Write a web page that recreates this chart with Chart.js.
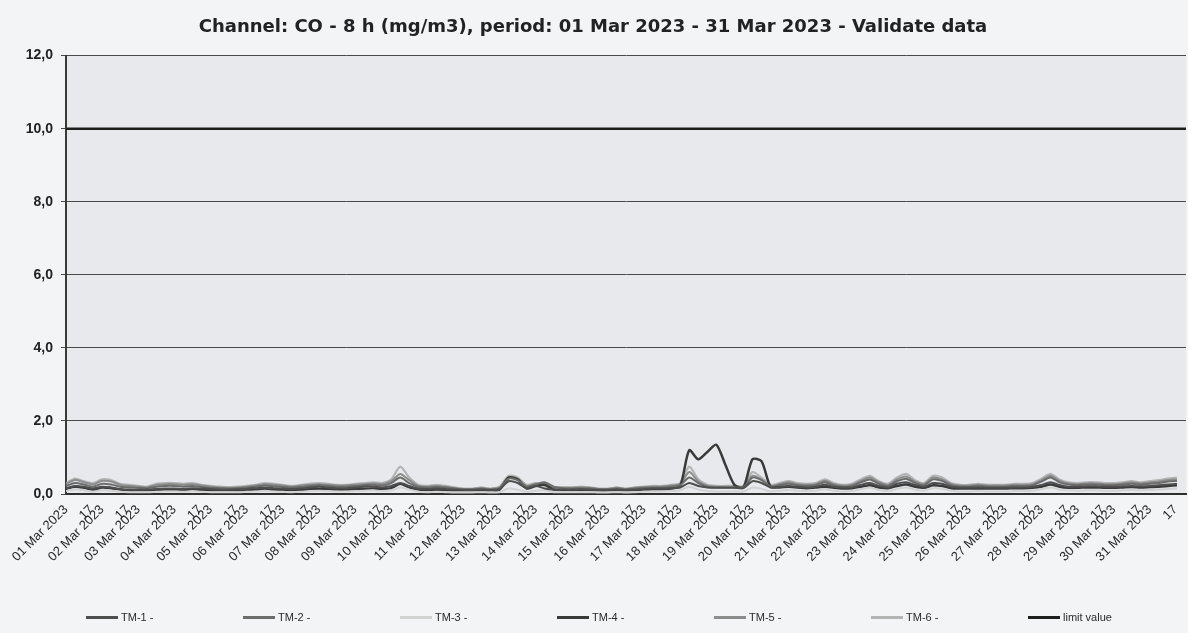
<!DOCTYPE html>
<html>
<head>
<meta charset="utf-8">
<script src="https://cdn.jsdelivr.net/npm/chart.js@4.4.0/dist/chart.umd.min.js"></script>
<style>
  html, body { margin: 0; padding: 0; background: #f3f4f6; }
  #wrap { position: relative; width: 1188px; height: 633px; }
  #legend { position: absolute; left: 86px; top: 610px; display: flex; margin: 0; padding: 0; list-style: none; }
  #legend li { width: 157px; display: flex; align-items: center; height: 14px;
               font-family: 'Liberation Sans Narrow', 'Liberation Sans', sans-serif; font-size: 11px; color: #2a2a2a; }
  #legend li span.sw { display: inline-block; width: 32px; height: 3px; margin-right: 3px; }
</style>
</head>
<body>
<div id="wrap"><canvas id="c" width="1188" height="633"></canvas><ul id="legend"></ul></div>
<script>
// ---- data (mg/m3, 8 h averages, sampled every 6 hours from 01 Mar 00:00) ----
const dayLabels = ['01 Mar 2023','02 Mar 2023','03 Mar 2023','04 Mar 2023','05 Mar 2023','06 Mar 2023','07 Mar 2023','08 Mar 2023','09 Mar 2023','10 Mar 2023','11 Mar 2023','12 Mar 2023','13 Mar 2023','14 Mar 2023','15 Mar 2023','16 Mar 2023','17 Mar 2023','18 Mar 2023','19 Mar 2023','20 Mar 2023','21 Mar 2023','22 Mar 2023','23 Mar 2023','24 Mar 2023','25 Mar 2023','26 Mar 2023','27 Mar 2023','28 Mar 2023','29 Mar 2023','30 Mar 2023','31 Mar 2023'];
const hourLabel = '17';
const hourTick = 17;
const stepHours = 6;
const yTicks = [0, 2, 4, 6, 8, 10, 12];

const tm1 = [.15,.22,.20,.15, .20,.18,.14,.12, .12,.12,.14,.15, .15,.14,.16,.15, .14,.12,.12,.13, .14,.16,.18,.16, .15,.14,.15,.18, .20,.18,.16,.16, .18,.20,.20,.18, .22,.30,.22,.15, .14,.15,.14,.12, .11,.11,.12,.11, .13,.35,.30,.16, .22,.15,.12,.12, .12,.13,.12,.11, .11,.12,.11,.12, .14,.15,.15,.16, .18,.30,.22,.18, .17,.17,.17,.16, .35,.30,.18,.20, .22,.20,.18,.20, .25,.20,.18,.18, .25,.30,.22,.18, .28,.32,.25,.20, .30,.28,.20,.18, .18,.18,.17,.17, .17,.18,.18,.20, .25,.32,.25,.20, .20,.21,.21,.20, .20,.21,.22,.21, .22,.24,.26,.28];
const tm2 = [.22,.30,.26,.20, .28,.26,.20,.18, .17,.16,.20,.22, .22,.20,.22,.19, .17,.16,.15,.16, .18,.20,.23,.21, .19,.18,.19,.22, .24,.22,.20,.20, .22,.24,.25,.23, .30,.45,.30,.20, .18,.19,.18,.15, .13,.13,.15,.13, .16,.42,.38,.20, .26,.32,.20,.16, .15,.16,.15,.13, .13,.15,.13,.15, .17,.18,.18,.20, .24,.45,.30,.20, .18,.18,.18,.18, .45,.38,.20,.24, .28,.24,.22,.24, .32,.24,.20,.22, .32,.40,.28,.22, .35,.42,.30,.24, .40,.36,.24,.20, .20,.22,.20,.20, .20,.22,.22,.24, .34,.45,.32,.26, .24,.26,.26,.24, .24,.26,.28,.26, .28,.30,.34,.36];
const tm3 = [.08,.12,.10,.06, .10,.09,.06,.05, .05,.05,.06,.07, .07,.06,.08,.06, .05,.05,.05,.05, .06,.07,.09,.07, .06,.05,.06,.08, .09,.08,.07,.07, .08,.09,.10,.08, .10,.18,.12,.06, .05,.06,.05,.04, .04,.04,.05,.04, .05,.15,.12,.06, .09,.10,.05,.05, .05,.05,.05,.04, .04,.05,.04,.05, .06,.07,.07,.08, .10,.20,.12,.08, .07,.07,.07,.07, .18,.14,.07,.09, .11,.09,.08,.09, .13,.09,.07,.08, .13,.17,.11,.08, .14,.18,.12,.09, .16,.14,.09,.07, .07,.08,.07,.07, .07,.08,.08,.09, .13,.18,.12,.10, .09,.10,.10,.09, .09,.10,.11,.10, .11,.12,.14,.15];
const tm4 = [.15,.20,.17,.12, .18,.16,.12,.10, .10,.10,.11,.12, .12,.11,.12,.11, .10,.10,.10,.10, .11,.12,.13,.12, .11,.11,.11,.13, .14,.13,.12,.12, .13,.14,.15,.14, .16,.28,.18,.12, .11,.11,.11,.10, .10,.10,.10,.10, .12,.45,.40,.15, .22,.25,.12,.11, .11,.11,.11,.10, .10,.11,.10,.11, .12,.13,.13,.15, .22,1.20,0.95,1.15, 1.35,0.80,0.25,0.18, 0.95,0.90,0.20,0.18, .20,.18,.16,.18, .20,.17,.15,.16, .20,.24,.18,.16, .22,.26,.20,.17, .24,.22,.16,.15, .15,.15,.15,.15, .15,.16,.16,.17, .20,.26,.20,.17, .17,.18,.18,.17, .17,.18,.19,.18, .19,.20,.22,.24];
const tm5 = [.28,.38,.32,.26, .36,.34,.25,.22, .20,.18,.25,.27, .27,.25,.27,.23, .20,.18,.17,.18, .20,.23,.27,.25, .23,.20,.23,.25, .27,.25,.23,.23, .25,.27,.29,.27, .35,.55,.38,.22, .20,.22,.20,.16, .14,.14,.16,.14, .18,.46,.42,.22, .28,.28,.18,.17, .17,.18,.17,.14, .14,.17,.14,.17, .19,.20,.20,.23, .27,.60,.35,.23, .20,.20,.20,.20, .50,.40,.22,.27, .32,.27,.25,.27, .36,.27,.23,.25, .36,.45,.32,.25, .40,.48,.34,.27, .45,.40,.27,.23, .23,.25,.23,.23, .23,.25,.25,.27, .38,.50,.36,.29, .27,.29,.29,.27, .27,.29,.32,.29, .32,.34,.38,.40];
const tm6 = [.30,.42,.35,.30, .40,.38,.28,.25, .22,.20,.28,.30, .30,.28,.30,.25, .22,.20,.18,.20, .22,.25,.30,.28, .25,.22,.25,.28, .30,.28,.25,.25, .28,.30,.32,.30, .40,.75,.45,.25, .22,.25,.22,.18, .15,.15,.18,.15, .20,.50,.45,.25, .30,.22,.18,.18, .18,.20,.18,.15, .15,.18,.15,.18, .20,.22,.22,.25, .30,.75,.40,.25, .22,.22,.22,.22, .60,.45,.25,.30, .35,.30,.28,.30, .40,.30,.25,.28, .40,.50,.35,.28, .45,.55,.38,.30, .50,.45,.30,.25, .25,.28,.25,.25, .25,.28,.28,.30, .42,.55,.40,.32, .30,.32,.32,.30, .30,.32,.35,.32, .35,.38,.42,.45];
const limitHours = [0, 744];
const limitValues = [10.0, 10.0];

const seriesNames = ['TM-1 -','TM-2 -','TM-3 -','TM-4 -','TM-5 -','TM-6 -'];
const seriesValues = [tm1, tm2, tm3, tm4, tm5, tm6];
const seriesColors = ['#4e4e4e','#6c6c6c','#d2d2d2','#3a3a3a','#8c8c8c','#b4b4b4'];
const seriesWidths = [2, 2, 2, 2.5, 2, 2.2];

const toPoints = vals => vals.map((v, i) => ({ x: i * stepHours, y: v }));

const datasets = seriesValues.map((vals, k) => ({
  label: seriesNames[k],
  data: toPoints(vals),
  borderColor: seriesColors[k],
  backgroundColor: seriesColors[k],
  borderWidth: seriesWidths[k],
  pointRadius: 0,
  tension: 0.25,
  fill: false
}));
datasets.push({
  label: 'limit value',
  data: limitHours.map((h, i) => ({ x: h, y: limitValues[i] })),
  borderColor: '#1e1e1e',
  backgroundColor: '#1e1e1e',
  borderWidth: 2.5,
  pointRadius: 0,
  fill: false
});

const plotBg = {
  id: 'plotBg',
  beforeDraw(chart) {
    const { ctx, chartArea: a } = chart;
    ctx.save();
    ctx.fillStyle = '#e7e9ed';
    ctx.fillRect(a.left, a.top, a.right - a.left, a.bottom - a.top);
    ctx.restore();
  }
};

const htmlLegend = {
  id: 'htmlLegend',
  afterUpdate(chart) {
    const ul = document.getElementById('legend');
    ul.innerHTML = '';
    chart.data.datasets.forEach(d => {
      const li = document.createElement('li');
      const sw = document.createElement('span');
      sw.className = 'sw';
      sw.style.background = d.borderColor;
      li.appendChild(sw);
      li.appendChild(document.createTextNode(d.label));
      ul.appendChild(li);
    });
  }
};

new Chart(document.getElementById('c'), {
  type: 'line',
  data: { datasets },
  plugins: [plotBg, htmlLegend],
  options: {
    responsive: false,
    animation: false,
    layout: { padding: { left: 0, right: 2, top: 0, bottom: 0 } },
    plugins: {
      title: {
        display: true,
        text: 'Channel: CO - 8 h (mg/m3), period: 01 Mar 2023 - 31 Mar 2023 - Validate data',
        color: '#222',
        font: { family: 'DejaVu Sans', size: 18, weight: 'bold' },
        padding: { top: 17, bottom: 17 }
      },
      legend: { display: false },
      tooltip: { enabled: false }
    },
    scales: {
      x: {
        type: 'linear',
        min: 0,
        max: 744,
        afterBuildTicks(axis) {
          const t = [];
          dayLabels.forEach((d, i) => {
            t.push({ value: i * 24 });
            t.push({ value: i * 24 + hourTick });
          });
          axis.ticks = t;
        },
        afterFit(s) { s.height = 139; },
        grid: { display: false },
        border: { display: true, color: '#2e2e2e', width: 2 },
        ticks: {
          autoSkip: false,
          minRotation: 45,
          maxRotation: 45,
          padding: 0,
          color: '#2a2a2a',
          font: { family: 'Liberation Sans', size: 13 },
          callback(v) {
            return v % 24 === 0 ? dayLabels[v / 24] : hourLabel;
          }
        }
      },
      y: {
        min: 0,
        max: 12,
        afterBuildTicks(axis) { axis.ticks = yTicks.map(v => ({ value: v })); },
        afterFit(s) { s.width = 66; },
        grid: { color: '#4a4a4a', lineWidth: 1, tickLength: 5, drawTicks: true },
        border: { display: true, color: '#3a3a3a', width: 2 },
        ticks: {
          color: '#222',
          padding: 8,
          font: { family: 'Liberation Sans', size: 14, weight: 'bold' },
          callback(v) { return v.toFixed(1).replace('.', ','); }
        }
      }
    }
  }
});
</script>
</body>
</html>
